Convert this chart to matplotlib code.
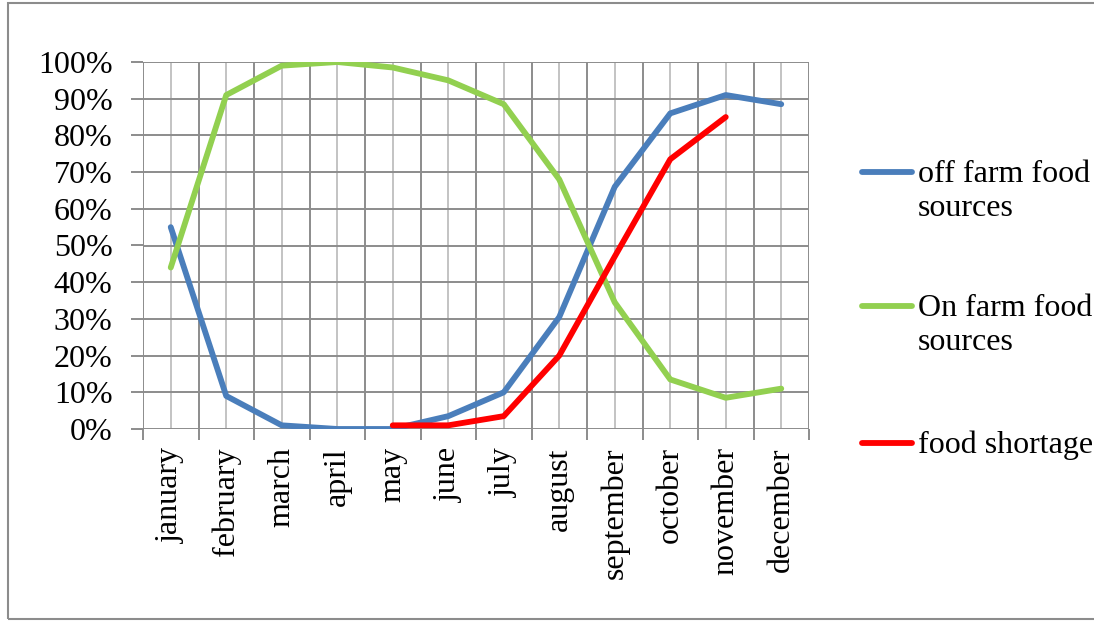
import numpy as np
import matplotlib
matplotlib.use("Agg")
import matplotlib.pyplot as plt
from matplotlib.lines import Line2D
from matplotlib.patches import Rectangle
from matplotlib.ticker import FuncFormatter, MultipleLocator

plt.rcParams['font.family'] = ['Liberation Serif', 'DejaVu Serif']

months = ["january", "february", "march", "april", "may", "june", "july",
          "august", "september", "october", "november", "december"]

off_farm = [55, 9, 1, 0, 0, 3.5, 10, 30.5, 66, 86, 91, 88.5]
on_farm = [44, 91, 99, 100, 98.5, 95, 88.5, 68, 34.5, 13.5, 8.5, 11]
# shortage only recorded from may to november
shortage_months = months[4:11]
shortage = [1, 1, 3.5, 20, 47, 73.5, 85]

series_names = ["off farm food\nsources", "On farm food\nsources", "food shortage"]
colors = ["#4A7EBB", "#92D050", "#FF0000"]

fs = 23

fig = plt.figure(figsize=(10.94, 6.22), dpi=100)
ax = fig.add_axes([143 / 1094, 1 - 429 / 622, (809 - 143) / 1094, (429 - 62) / 622])

x = np.arange(len(months))
xs = np.array([months.index(m) for m in shortage_months])

lw = 4.2
ax.plot(x, np.array(off_farm) / 100, color=colors[0], lw=lw, solid_capstyle='round', zorder=3)
ax.plot(x, np.array(on_farm) / 100, color=colors[1], lw=lw, solid_capstyle='round', zorder=3)
ax.plot(xs, np.array(shortage) / 100, color=colors[2], lw=lw, solid_capstyle='round', zorder=4)

ax.set_xlim(-0.5, len(months) - 0.5)
ax.set_ylim(0, 1)

# grid: dark lines on category borders and every 10%, light lines at month centres
for b in np.arange(-0.5, len(months), 1.0):
    ax.axvline(b, color="#8C8C8C", lw=1.4, zorder=1)
for c in x:
    ax.axvline(c, color="#C3C3C3", lw=1.4, zorder=1)
for v in np.arange(0, 1.01, 0.1):
    ax.axhline(v, color="#8C8C8C", lw=1.4, zorder=1)

for s in ax.spines.values():
    s.set_visible(False)

ax.yaxis.set_major_locator(MultipleLocator(0.1))
ax.yaxis.set_major_formatter(FuncFormatter(lambda v, p: f"{v * 100:.0f}%"))
ax.set_xticks(np.arange(-0.5, len(months), 1.0))
ax.set_xticklabels([])
ax.set_xticks(x, minor=True)
ax.set_xticklabels(months, minor=True, rotation=90, va='top', ha='center')
ax.tick_params(axis='x', which='major', length=8, width=1.4, color="#8C8C8C", direction='out')
ax.tick_params(axis='x', which='minor', length=0, pad=13, labelsize=fs)
ax.tick_params(axis='y', length=9, width=1.4, color="#8C8C8C", pad=13, labelsize=fs)

# legend drawn beside the plot
leg_y = [172, 306, 443]
for name, col, yy in zip(series_names, colors, leg_y):
    fy = 1 - yy / 622
    fig.add_artist(Line2D([862 / 1094, 912 / 1094], [fy, fy], color=col, lw=lw,
                          solid_capstyle='round', transform=fig.transFigure))
    fig.text(918 / 1094, fy + 12 / 622, name, fontsize=fs, va='top', ha='left',
             linespacing=1.22)

# chart border
fig.add_artist(Rectangle((8 / 1094, 3 / 622), 1.2, 616 / 622, transform=fig.transFigure,
                         fill=False, edgecolor="#8C8C8C", lw=1.5))

fig.savefig("out.png", dpi=100)
